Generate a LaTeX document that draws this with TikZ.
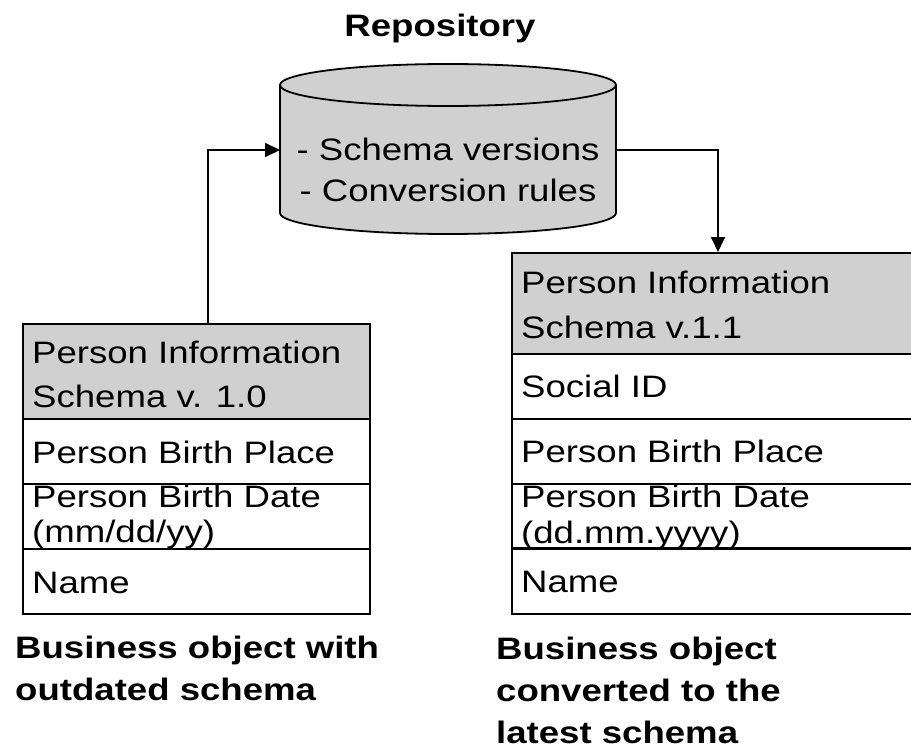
\documentclass[tikz,border=0pt]{standalone}
\usepackage{fontspec}
\setmainfont{Liberation Sans}[FakeStretch=1.18]
\usetikzlibrary{arrows.meta}
\definecolor{hdr}{RGB}{208,208,208}
\tikzset{
  cell/.style={draw=black, line width=1.8pt, rectangle, inner sep=0pt,
    anchor=north west, minimum width=#1},
  txt/.style={anchor=base west, inner sep=0pt, font=\fontsize{31}{37}\selectfont},
  lbl/.style={anchor=base west, inner sep=0pt, align=left,
    font=\fontsize{31}{42}\selectfont\bfseries},
  conn/.style={draw=black, line width=1.8pt, -{Triangle[length=15pt,width=14pt]}},
}
\begin{document}
\begin{tikzpicture}[x=1pt,y=-1pt]
\useasboundingbox (0,0) rectangle (911,749);
\clip (0,0) rectangle (911,749);

% repository cylinder
\fill[hdr] (280,85) -- (280,213) arc[start angle=180,end angle=360,x radius=168pt,y radius=21pt]
  -- (616,85) arc[start angle=0,end angle=180,x radius=168pt,y radius=21pt] -- cycle;
\draw[line width=1.8pt] (280,85) -- (280,213) arc[start angle=180,end angle=360,x radius=168pt,y radius=21pt]
  -- (616,85) arc[start angle=0,end angle=180,x radius=168pt,y radius=21pt]
  arc[start angle=180,end angle=360,x radius=168pt,y radius=21pt];
% base anchor of a multi-line node sits on its last line
\node[anchor=base, inner sep=0pt, align=center, font=\fontsize{31}{42}\selectfont] (repo)
  at (448,202) {- Schema versions\\- Conversion rules};
\node[anchor=base, inner sep=0pt, font=\fontsize{31}{37}\selectfont\bfseries] (repotitle)
  at (440,37) {Repository};
\coordinate (repoW) at (280,150);
\coordinate (repoE) at (616,150);

% outdated business object (the last row is filled white and drawn
% after the date text, so it hides the overflowing descenders)
\node[cell=347pt, minimum height=95pt, fill=hdr] (Lh) at (22,323) {};
\node[cell=347pt, minimum height=65pt] (L1) at (22,418) {};
\node[cell=347pt, minimum height=65pt] (L2) at (22,483) {};
\node[txt] (Lt1) at (32,363) {Person Information};
\node[txt] (Lt2) at (32,407) {Schema v. 1.0};
\node[txt] (Lt3) at (32,463) {Person Birth Place};
\node[txt] (Lt4) at (32,507) {Person Birth Date};
\node[txt] (Lt5) at (32,542) {(mm/dd/yy)};
\node[cell=347pt, minimum height=65pt, fill=white] (L3) at (22,548) {};
\node[txt] (Lt6) at (32,593) {Name};
\node[lbl] (Llbl) at (15,700) {Business object with\\outdated schema};

% converted business object
\node[cell=404pt, minimum height=101pt, fill=hdr] (Rh) at (511,252) {};
\node[cell=404pt, minimum height=65pt] (R1) at (511,353) {};
\node[cell=404pt, minimum height=65pt] (R2) at (511,418) {};
\node[cell=404pt, minimum height=64pt] (R3) at (511,483) {};
\node[txt] (Rt1) at (521,293) {Person Information};
\node[txt] (Rt2) at (521,338) {Schema v.1.1};
\node[txt] (Rt3) at (521,397) {Social ID};
\node[txt] (Rt4) at (521,462) {Person Birth Place};
\node[txt] (Rt5) at (521,507) {Person Birth Date};
\node[txt] (Rt6) at (521,543) {(dd.mm.yyyy)};
\node[cell=404pt, minimum height=65pt, fill=white] (R4) at (511,548) {};
\node[txt] (Rt7) at (521,592) {Name};
\node[lbl] (Rlbl) at (496,743) {Business object\\converted to the\\latest schema};

% connectors
\draw[conn] ([xshift=186pt]Lh.north west) |- (repoW);
\draw[conn] (repoE) -| ([xshift=207pt]Rh.north west);
\end{tikzpicture}
\end{document}
